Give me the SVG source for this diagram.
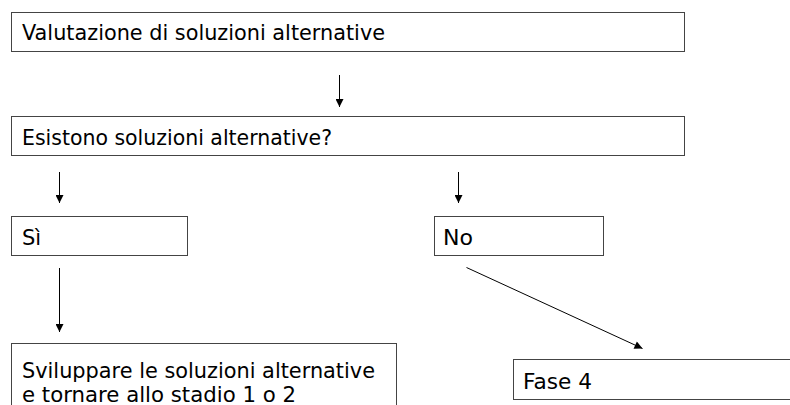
<svg xmlns="http://www.w3.org/2000/svg" width="790" height="405" viewBox="0 0 790 405">
<style>
.box{fill:#fff;stroke:#444;stroke-width:1}
.t{font-family:"DejaVu Sans",Verdana,sans-serif;font-size:21px;fill:#000}
.c{stroke:#000;stroke-width:1;fill:none;marker-end:url(#ah)}
</style>
<defs>
<marker id="ah" viewBox="0 0 10 10" refX="10" refY="5" markerWidth="9" markerHeight="8" markerUnits="userSpaceOnUse" orient="auto">
<path d="M0,0 L10,5 L0,10 Z" fill="#000"/>
</marker>
</defs>
<rect width="790" height="405" fill="#fff"/>
<g id="n1"><rect class="box" x="11.5" y="12.5" width="673" height="39"/><text class="t" x="22" y="40" textLength="363" lengthAdjust="spacingAndGlyphs">Valutazione di soluzioni alternative</text></g>
<g id="n2"><rect class="box" x="11.5" y="116.5" width="673" height="39"/><text class="t" x="22" y="145" textLength="310" lengthAdjust="spacingAndGlyphs">Esistono soluzioni alternative?</text></g>
<g id="n3"><rect class="box" x="11.5" y="216.5" width="176" height="39"/><text class="t" x="22" y="245">Sì</text></g>
<g id="n4"><rect class="box" x="434.5" y="216.5" width="169" height="39"/><text class="t" x="443" y="245" textLength="30" lengthAdjust="spacingAndGlyphs">No</text></g>
<g id="n5"><rect class="box" x="11.5" y="343.5" width="385" height="70"/><text class="t" x="22" y="378" textLength="353" lengthAdjust="spacingAndGlyphs">Sviluppare le soluzioni alternative</text><text class="t" x="22" y="402" textLength="274" lengthAdjust="spacingAndGlyphs">e tornare allo stadio 1 o 2</text></g>
<g id="n6"><rect class="box" x="513.5" y="359.5" width="290" height="40"/><text class="t" x="523" y="389" textLength="69" lengthAdjust="spacingAndGlyphs">Fase 4</text></g>
<g id="connectors">
<line class="c" x1="339.5" y1="75" x2="339.5" y2="107"/>
<line class="c" x1="59.5" y1="172" x2="59.5" y2="203"/>
<line class="c" x1="458.5" y1="172" x2="458.5" y2="203"/>
<line class="c" x1="59.5" y1="268" x2="59.5" y2="332"/>
<line class="c" x1="466.5" y1="267.5" x2="642.5" y2="348.5"/>
</g>
</svg>
